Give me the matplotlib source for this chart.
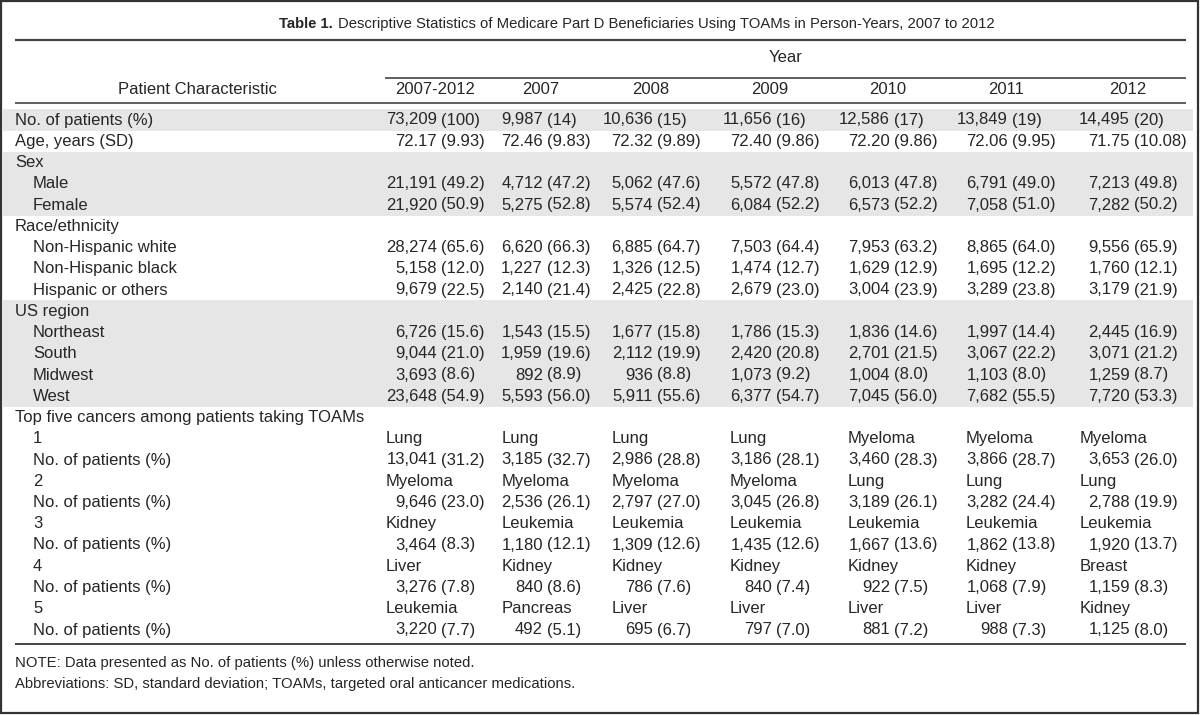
import matplotlib
matplotlib.use("Agg")
import matplotlib.pyplot as plt
from matplotlib.patches import Rectangle

plt.rcParams['font.family'] = ['Liberation Sans', 'DejaVu Sans']

title_bold = "Table 1."
title_rest = "Descriptive Statistics of Medicare Part D Beneficiaries Using TOAMs in Person-Years, 2007 to 2012"
years = ["2007-2012", "2007", "2008", "2009", "2010", "2011", "2012"]

patients_n = [73209, 9987, 10636, 11656, 12586, 13849, 14495]
patients_pct = [100, 14, 15, 16, 17, 19, 20]
age_mean = [72.17, 72.46, 72.32, 72.40, 72.20, 72.06, 71.75]
age_sd = [9.93, 9.83, 9.89, 9.86, 9.86, 9.95, 10.08]

male_n = [21191, 4712, 5062, 5572, 6013, 6791, 7213]
male_pct = [49.2, 47.2, 47.6, 47.8, 47.8, 49.0, 49.8]
female_n = [21920, 5275, 5574, 6084, 6573, 7058, 7282]
female_pct = [50.9, 52.8, 52.4, 52.2, 52.2, 51.0, 50.2]

white_n = [28274, 6620, 6885, 7503, 7953, 8865, 9556]
white_pct = [65.6, 66.3, 64.7, 64.4, 63.2, 64.0, 65.9]
black_n = [5158, 1227, 1326, 1474, 1629, 1695, 1760]
black_pct = [12.0, 12.3, 12.5, 12.7, 12.9, 12.2, 12.1]
hisp_n = [9679, 2140, 2425, 2679, 3004, 3289, 3179]
hisp_pct = [22.5, 21.4, 22.8, 23.0, 23.9, 23.8, 21.9]

ne_n = [6726, 1543, 1677, 1786, 1836, 1997, 2445]
ne_pct = [15.6, 15.5, 15.8, 15.3, 14.6, 14.4, 16.9]
south_n = [9044, 1959, 2112, 2420, 2701, 3067, 3071]
south_pct = [21.0, 19.6, 19.9, 20.8, 21.5, 22.2, 21.2]
midwest_n = [3693, 892, 936, 1073, 1004, 1103, 1259]
midwest_pct = [8.6, 8.9, 8.8, 9.2, 8.0, 8.0, 8.7]
west_n = [23648, 5593, 5911, 6377, 7045, 7682, 7720]
west_pct = [54.9, 56.0, 55.6, 54.7, 56.0, 55.5, 53.3]

rank1 = ["Lung", "Lung", "Lung", "Lung", "Myeloma", "Myeloma", "Myeloma"]
rank1_n = [13041, 3185, 2986, 3186, 3460, 3866, 3653]
rank1_pct = [31.2, 32.7, 28.8, 28.1, 28.3, 28.7, 26.0]
rank2 = ["Myeloma", "Myeloma", "Myeloma", "Myeloma", "Lung", "Lung", "Lung"]
rank2_n = [9646, 2536, 2797, 3045, 3189, 3282, 2788]
rank2_pct = [23.0, 26.1, 27.0, 26.8, 26.1, 24.4, 19.9]
rank3 = ["Kidney", "Leukemia", "Leukemia", "Leukemia", "Leukemia", "Leukemia", "Leukemia"]
rank3_n = [3464, 1180, 1309, 1435, 1667, 1862, 1920]
rank3_pct = [8.3, 12.1, 12.6, 12.6, 13.6, 13.8, 13.7]
rank4 = ["Liver", "Kidney", "Kidney", "Kidney", "Kidney", "Kidney", "Breast"]
rank4_n = [3276, 840, 786, 840, 922, 1068, 1159]
rank4_pct = [7.8, 8.6, 7.6, 7.4, 7.5, 7.9, 8.3]
rank5 = ["Leukemia", "Pancreas", "Liver", "Liver", "Liver", "Liver", "Kidney"]
rank5_n = [3220, 492, 695, 797, 881, 988, 1125]
rank5_pct = [7.7, 5.1, 6.7, 7.0, 7.2, 7.3, 8.0]

notes = ["NOTE: Data presented as No. of patients (%) unless otherwise noted.",
         "Abbreviations: SD, standard deviation; TOAMs, targeted oral anticancer medications."]


def counts(n, p, fmt="{:.1f}"):
    return [("{:,}".format(a), "(" + fmt.format(b) + ")") for a, b in zip(n, p)]


# rows: (label, indented, cells); cells are (number, paren) pairs, plain names or None
rows = [
    ("No. of patients (%)", False, counts(patients_n, patients_pct, "{:d}")),
    ("Age, years (SD)", False, [("{:.2f}".format(a), "({:.2f})".format(b)) for a, b in zip(age_mean, age_sd)]),
    ("Sex", False, None),
    ("Male", True, counts(male_n, male_pct)),
    ("Female", True, counts(female_n, female_pct)),
    ("Race/ethnicity", False, None),
    ("Non-Hispanic white", True, counts(white_n, white_pct)),
    ("Non-Hispanic black", True, counts(black_n, black_pct)),
    ("Hispanic or others", True, counts(hisp_n, hisp_pct)),
    ("US region", False, None),
    ("Northeast", True, counts(ne_n, ne_pct)),
    ("South", True, counts(south_n, south_pct)),
    ("Midwest", True, counts(midwest_n, midwest_pct)),
    ("West", True, counts(west_n, west_pct)),
    ("Top five cancers among patients taking TOAMs", False, None),
]
for k, (names, n, p) in enumerate([(rank1, rank1_n, rank1_pct), (rank2, rank2_n, rank2_pct),
                                   (rank3, rank3_n, rank3_pct), (rank4, rank4_n, rank4_pct),
                                   (rank5, rank5_n, rank5_pct)]):
    rows.append((str(k + 1), True, names))
    rows.append(("No. of patients (%)", True, counts(n, p)))

shaded = [(0, 0), (2, 4), (9, 13)]

# layout in pixels
W, H = 1200, 715
fs = 12
fs_small = 10.7
tc = "#262626"
lc = "#444444"
col_left = [386, 502, 612, 730, 848, 966, 1080]
col_paren = [441, 547, 657, 776, 894, 1012, 1134]
x0, x1 = 15, 1186
y_first, dy = 120, 21.25

fig = plt.figure(figsize=(W / 100, H / 100), dpi=100)
ax = fig.add_axes([0, 0, 1, 1])
ax.set_xlim(0, W)
ax.set_ylim(H, 0)
ax.axis("off")

ax.add_patch(Rectangle((1, 1), W - 3, H - 3, fill=False, ec="#333333", lw=1.6))

for a, b in shaded:
    top = y_first + a * dy - 11
    ax.add_patch(Rectangle((3, top), 1190, (b - a) * dy + 22, fc="#e6e6e6", ec="none"))

# title: bold lead-in followed by plain text, centred as one line
t1 = ax.text(0, 24, title_bold, fontsize=fs_small, fontweight="bold", color=tc, va="center", ha="left")
t2 = ax.text(0, 24, title_rest, fontsize=fs_small, color=tc, va="center", ha="left")
fig.canvas.draw()
w1 = t1.get_window_extent().width
w2 = t2.get_window_extent().width
gap = 5
start = 637 - (w1 + gap + w2) / 2
t1.set_x(start)
t2.set_x(start + w1 + gap)

ax.plot([x0, x1], [40, 40], color=lc, lw=1.6, solid_capstyle="butt")
ax.text((385 + x1) / 2, 58, "Year", fontsize=fs, color=tc, va="center", ha="center")
ax.plot([385, x1], [78, 78], color=lc, lw=1.2, solid_capstyle="butt")
ax.text(197, 89, "Patient Characteristic", fontsize=fs, color=tc, va="center", ha="center")
for j, yr in enumerate(years):
    ax.text(col_paren[j] - 6, 89, yr, fontsize=fs, color=tc, va="center", ha="center")
ax.plot([x0, x1], [103, 103], color=lc, lw=1.2, solid_capstyle="butt")

for i, (label, indent, cells) in enumerate(rows):
    y = y_first + i * dy
    ax.text(33 if indent else x0, y, label, fontsize=fs, color=tc, va="center", ha="left")
    if cells is None:
        continue
    for j, c in enumerate(cells):
        if isinstance(c, str):
            ax.text(col_left[j], y, c, fontsize=fs, color=tc, va="center", ha="left")
        else:
            ax.text(col_paren[j] - 4, y, c[0], fontsize=fs, color=tc, va="center", ha="right")
            ax.text(col_paren[j], y, c[1], fontsize=fs, color=tc, va="center", ha="left")

ax.plot([x0, x1], [644, 644], color=lc, lw=1.4, solid_capstyle="butt")
for k, note in enumerate(notes):
    ax.text(x0, 663 + k * 21, note, fontsize=fs_small, color=tc, va="center", ha="left")

fig.savefig("out.png", dpi=100)
